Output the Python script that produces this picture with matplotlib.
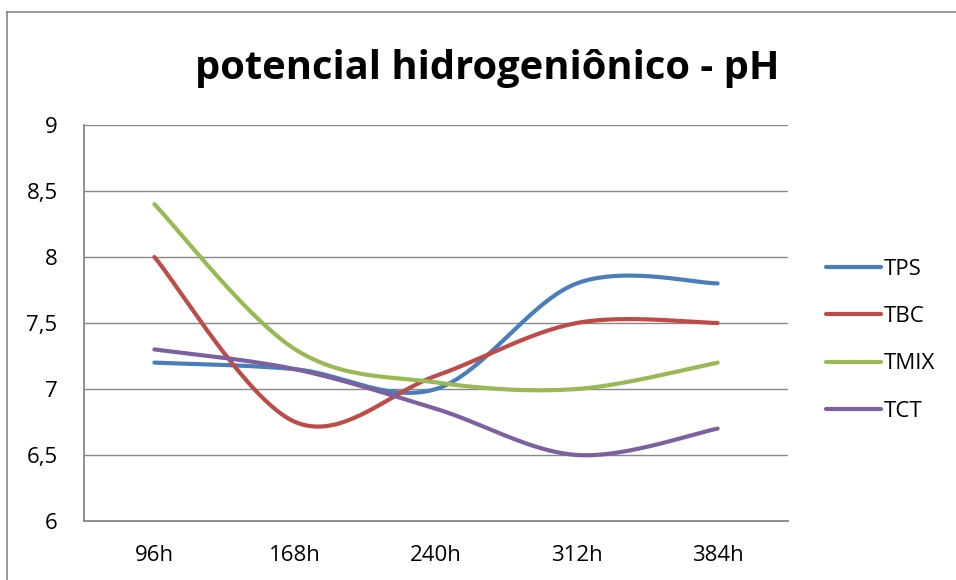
import numpy as np
import matplotlib
matplotlib.use("Agg")
import matplotlib.pyplot as plt
from matplotlib.lines import Line2D

categories = ["96h", "168h", "240h", "312h", "384h"]
tps = [7.2, 7.15, 7.0, 7.8, 7.8]
tbc = [8.0, 6.75, 7.1, 7.5, 7.5]
tmix = [8.4, 7.3, 7.05, 7.0, 7.2]
tct = [7.3, 7.15, 6.85, 6.5, 6.7]
series_names = ["TPS", "TBC", "TMIX", "TCT"]
yticks = [6, 6.5, 7, 7.5, 8, 8.5, 9]
ytick_labels = ["6", "6,5", "7", "7,5", "8", "8,5", "9"]
title = "potencial hidrogeniônico - pH"

colors = ["#4A7EBB", "#BE4B48", "#98B954", "#7D60A0"]

plt.rcParams['font.family'] = ['Open Sans', 'DejaVu Sans']

W, H = 956, 580
fig = plt.figure(figsize=(W / 100, H / 100), dpi=100)
ax = fig.add_axes([84 / W, 1 - 521 / H, (788 - 84) / W, (521 - 125) / H])


def smooth(xs, ys, n=40):
    xs = np.asarray(xs, float)
    ys = np.asarray(ys, float)
    P = np.column_stack([xs, ys])
    Pe = np.vstack([P[0], P, P[-1]])
    out = []
    for i in range(len(P) - 1):
        p0, p1, p2, p3 = Pe[i], Pe[i + 1], Pe[i + 2], Pe[i + 3]
        c1 = p1 + (p2 - p0) / 6.0
        c2 = p2 - (p3 - p1) / 6.0
        t = np.linspace(0, 1, n)[:, None]
        seg = ((1 - t) ** 3) * p1 + 3 * ((1 - t) ** 2) * t * c1 + 3 * (1 - t) * t ** 2 * c2 + t ** 3 * p2
        out.append(seg if i == 0 else seg[1:])
    s = np.vstack(out)
    return s[:, 0], s[:, 1]


x = np.arange(len(categories))
for name, vals, c in zip(series_names, [tps, tbc, tmix, tct], colors):
    sx, sy = smooth(x, vals)
    ax.plot(sx, sy, color=c, lw=3.0, solid_capstyle='round', label=name)

ax.set_xlim(-0.5, len(categories) - 0.5)
ax.set_ylim(6, 9)
ax.set_yticks(yticks)
ax.set_yticklabels(ytick_labels)
ax.set_xticks(x)
ax.set_xticklabels(categories)
ax.tick_params(axis='both', length=0, labelsize=16)
ax.tick_params(axis='y', pad=19)
ax.tick_params(axis='x', pad=17)
ax.grid(axis='y', color='#888888', lw=1.0)
ax.set_axisbelow(True)
for side in ['top', 'right']:
    ax.spines[side].set_visible(False)
for side in ['left', 'bottom']:
    ax.spines[side].set_color('#888888')
    ax.spines[side].set_linewidth(1.3)

fig.text(487 / W, 1 - 69 / H, title, ha='center', va='center',
         fontsize=28.7, fontweight='bold')

handles = [Line2D([0], [0], color=c, lw=3.0, solid_capstyle='round') for c in colors]
fig.legend(handles, series_names, loc='upper left', bbox_to_anchor=(817 / W, 1 - 250 / H),
           frameon=False, fontsize=16, handlelength=2.5, handletextpad=0.12,
           labelspacing=1.18, borderaxespad=0)

# chart outer border (top and left visible)
fig.add_artist(Line2D([7 / W, 7 / W], [0, 1 - 12 / H], color='#888888', lw=1.2, transform=fig.transFigure))
fig.add_artist(Line2D([7 / W, 1], [1 - 12 / H, 1 - 12 / H], color='#888888', lw=1.2, transform=fig.transFigure))

fig.savefig("out.png", dpi=100)
